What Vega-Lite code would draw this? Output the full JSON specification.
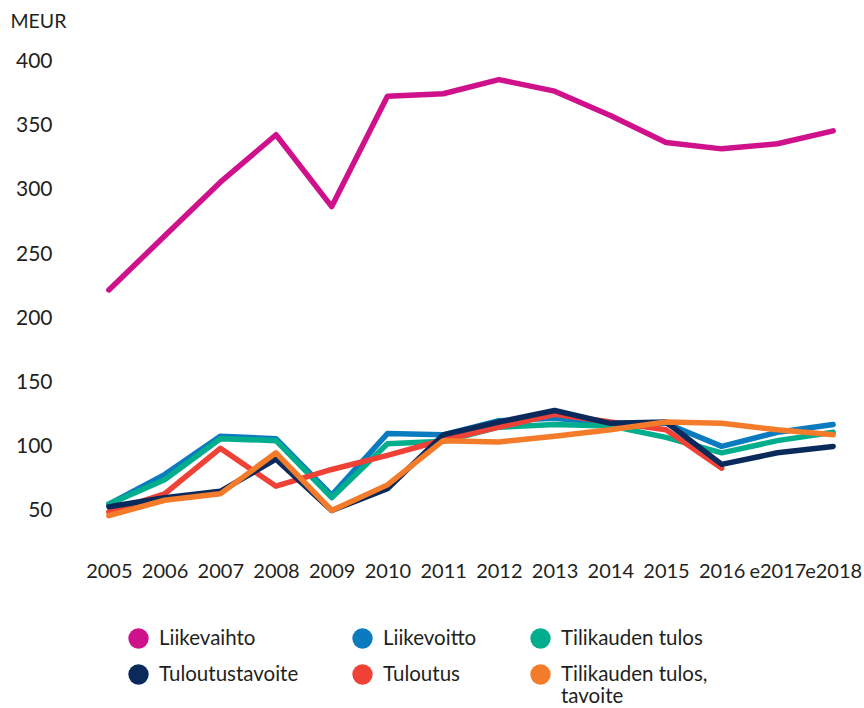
{
  "$schema": "https://vega.github.io/schema/vega-lite/v6.json",
  "autosize": "none",
  "width": 780,
  "height": 513,
  "padding": {"left": 81, "top": 36, "right": 3, "bottom": 159},
  "background": "white",
  "config": {
    "view": {"stroke": null},
    "font": "Lato",
    "axis": {"labelFont": "Lato", "labelColor": "#231F20", "labelFontSize": 21, "grid": false, "domain": false, "ticks": false}
  },
  "data": {
    "values": [
      {"year": "2005", "series": "Liikevaihto", "value": 222},
      {"year": "2006", "series": "Liikevaihto", "value": 264},
      {"year": "2007", "series": "Liikevaihto", "value": 306},
      {"year": "2008", "series": "Liikevaihto", "value": 343},
      {"year": "2009", "series": "Liikevaihto", "value": 287},
      {"year": "2010", "series": "Liikevaihto", "value": 373},
      {"year": "2011", "series": "Liikevaihto", "value": 375},
      {"year": "2012", "series": "Liikevaihto", "value": 386},
      {"year": "2013", "series": "Liikevaihto", "value": 377},
      {"year": "2014", "series": "Liikevaihto", "value": 358},
      {"year": "2015", "series": "Liikevaihto", "value": 337},
      {"year": "2016", "series": "Liikevaihto", "value": 332},
      {"year": "e2017", "series": "Liikevaihto", "value": 336},
      {"year": "e2018", "series": "Liikevaihto", "value": 346},

      {"year": "2005", "series": "Liikevoitto", "value": 55},
      {"year": "2006", "series": "Liikevoitto", "value": 78},
      {"year": "2007", "series": "Liikevoitto", "value": 108},
      {"year": "2008", "series": "Liikevoitto", "value": 106},
      {"year": "2009", "series": "Liikevoitto", "value": 62},
      {"year": "2010", "series": "Liikevoitto", "value": 110},
      {"year": "2011", "series": "Liikevoitto", "value": 109},
      {"year": "2012", "series": "Liikevoitto", "value": 120},
      {"year": "2013", "series": "Liikevoitto", "value": 122},
      {"year": "2014", "series": "Liikevoitto", "value": 118},
      {"year": "2015", "series": "Liikevoitto", "value": 118},
      {"year": "2016", "series": "Liikevoitto", "value": 100},
      {"year": "e2017", "series": "Liikevoitto", "value": 111},
      {"year": "e2018", "series": "Liikevoitto", "value": 117},

      {"year": "2005", "series": "Tilikauden tulos", "value": 55},
      {"year": "2006", "series": "Tilikauden tulos", "value": 74},
      {"year": "2007", "series": "Tilikauden tulos", "value": 106},
      {"year": "2008", "series": "Tilikauden tulos", "value": 104.5},
      {"year": "2009", "series": "Tilikauden tulos", "value": 60},
      {"year": "2010", "series": "Tilikauden tulos", "value": 102},
      {"year": "2011", "series": "Tilikauden tulos", "value": 104},
      {"year": "2012", "series": "Tilikauden tulos", "value": 115},
      {"year": "2013", "series": "Tilikauden tulos", "value": 117},
      {"year": "2014", "series": "Tilikauden tulos", "value": 116},
      {"year": "2015", "series": "Tilikauden tulos", "value": 107},
      {"year": "2016", "series": "Tilikauden tulos", "value": 95},
      {"year": "e2017", "series": "Tilikauden tulos", "value": 104.5},
      {"year": "e2018", "series": "Tilikauden tulos", "value": 111},

      {"year": "2005", "series": "Tuloutus", "value": 49},
      {"year": "2006", "series": "Tuloutus", "value": 63},
      {"year": "2007", "series": "Tuloutus", "value": 98.5},
      {"year": "2008", "series": "Tuloutus", "value": 69},
      {"year": "2009", "series": "Tuloutus", "value": 82},
      {"year": "2010", "series": "Tuloutus", "value": 93},
      {"year": "2011", "series": "Tuloutus", "value": 105},
      {"year": "2012", "series": "Tuloutus", "value": 115},
      {"year": "2013", "series": "Tuloutus", "value": 125},
      {"year": "2014", "series": "Tuloutus", "value": 119},
      {"year": "2015", "series": "Tuloutus", "value": 113},
      {"year": "2016", "series": "Tuloutus", "value": 83},

      {"year": "2005", "series": "Tuloutustavoite", "value": 53},
      {"year": "2006", "series": "Tuloutustavoite", "value": 60},
      {"year": "2007", "series": "Tuloutustavoite", "value": 65},
      {"year": "2008", "series": "Tuloutustavoite", "value": 90},
      {"year": "2009", "series": "Tuloutustavoite", "value": 50},
      {"year": "2010", "series": "Tuloutustavoite", "value": 67},
      {"year": "2011", "series": "Tuloutustavoite", "value": 109},
      {"year": "2012", "series": "Tuloutustavoite", "value": 119},
      {"year": "2013", "series": "Tuloutustavoite", "value": 128},
      {"year": "2014", "series": "Tuloutustavoite", "value": 118},
      {"year": "2015", "series": "Tuloutustavoite", "value": 119},
      {"year": "2016", "series": "Tuloutustavoite", "value": 86},
      {"year": "e2017", "series": "Tuloutustavoite", "value": 95},
      {"year": "e2018", "series": "Tuloutustavoite", "value": 100},

      {"year": "2005", "series": "Tilikauden tulos, tavoite", "value": 46},
      {"year": "2006", "series": "Tilikauden tulos, tavoite", "value": 58},
      {"year": "2007", "series": "Tilikauden tulos, tavoite", "value": 63},
      {"year": "2008", "series": "Tilikauden tulos, tavoite", "value": 95},
      {"year": "2009", "series": "Tilikauden tulos, tavoite", "value": 50},
      {"year": "2010", "series": "Tilikauden tulos, tavoite", "value": 70},
      {"year": "2011", "series": "Tilikauden tulos, tavoite", "value": 104.5},
      {"year": "2012", "series": "Tilikauden tulos, tavoite", "value": 103.5},
      {"year": "2013", "series": "Tilikauden tulos, tavoite", "value": 108},
      {"year": "2014", "series": "Tilikauden tulos, tavoite", "value": 113},
      {"year": "2015", "series": "Tilikauden tulos, tavoite", "value": 119},
      {"year": "2016", "series": "Tilikauden tulos, tavoite", "value": 118},
      {"year": "e2017", "series": "Tilikauden tulos, tavoite", "value": 113},
      {"year": "e2018", "series": "Tilikauden tulos, tavoite", "value": 109}
    ]
  },
  "mark": {"type": "line", "strokeWidth": 5.5, "strokeCap": "round", "strokeJoin": "round"},
  "encoding": {
    "x": {
      "field": "year", "type": "ordinal", "sort": null,
      "scale": {"type": "point", "padding": 0.5},
      "axis": {"title": null, "labelAngle": 0, "labelPadding": 12, "labelBaseline": "top", "labelFontSize": 20}
    },
    "y": {
      "field": "value", "type": "quantitative",
      "scale": {"domain": [20, 420], "nice": false, "zero": false},
      "axis": {
        "values": [50, 100, 150, 200, 250, 300, 350, 400],
        "labelPadding": 29,
        "title": "MEUR", "titleAngle": 0, "titleAlign": "left", "titleBaseline": "alphabetic",
        "titleX": -71, "titleY": -9, "titleFont": "Lato", "titleFontSize": 19.5, "titleFontWeight": "normal", "titleColor": "#231F20"
      }
    },
    "color": {
      "field": "series", "type": "nominal",
      "scale": {
        "domain": ["Liikevaihto", "Liikevoitto", "Tilikauden tulos", "Tuloutustavoite", "Tuloutus", "Tilikauden tulos, tavoite"],
        "range": ["#D0118C", "#0A7BBE", "#00AE8E", "#0A2A5C", "#EF4136", "#F47B2A"]
      },
      "legend": {
        "title": null,
        "orient": "none",
        "legendX": 47,
        "legendY": 592,
        "direction": "horizontal",
        "columns": 3,
        "columnPadding": 53,
        "rowPadding": 15,
        "symbolType": "circle",
        "symbolSize": 415,
        "symbolStrokeWidth": 0,
        "symbolOffset": 0,
        "labelFont": "Lato",
        "labelFontSize": 20.5,
        "labelColor": "#231F20",
        "labelOffset": 10,
        "labelLimit": 300,
        "labelExpr": "datum.label == 'Tilikauden tulos, tavoite' ? ['Tilikauden tulos,', 'tavoite'] : datum.label",
        "encode": {"symbols": {"update": {"fill": {"scale": "color", "field": "value"}, "opacity": {"value": 1}}}}
      }
    }
  }
}
